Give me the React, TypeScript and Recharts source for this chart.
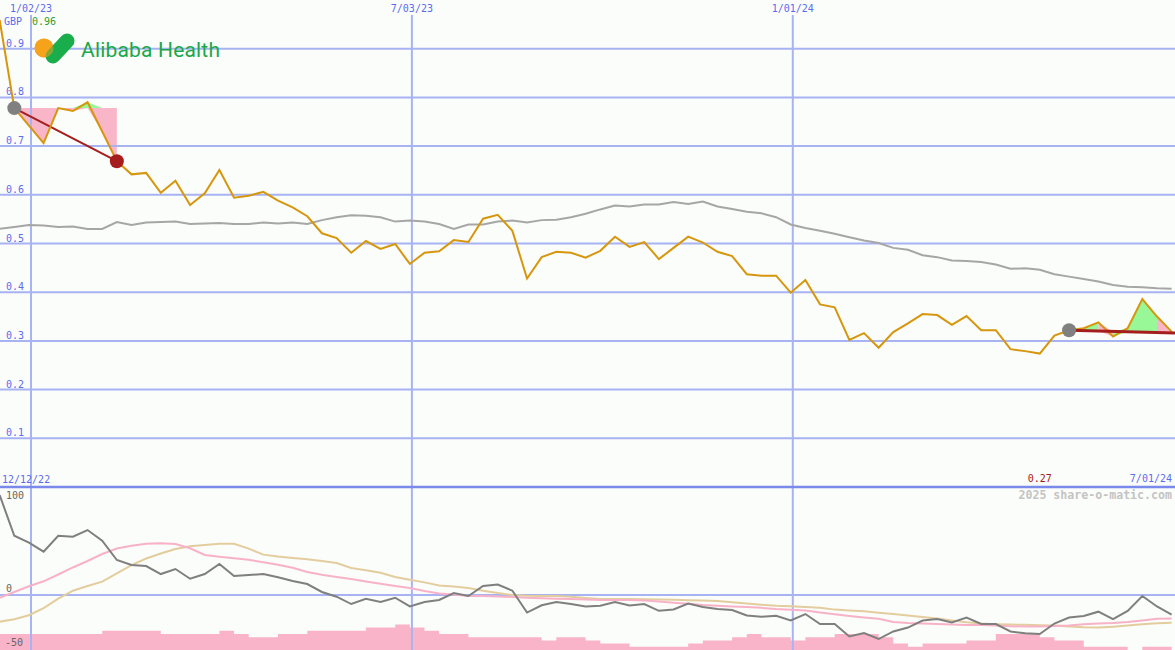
import React from 'react';
import {
  ComposedChart,
  Line,
  Area,
  XAxis,
  YAxis,
  ReferenceLine,
  ReferenceDot,
} from 'recharts';

// weekly series, first entry is the week before the chart's first full week
const FIRST_WEEK = -1;
const XMIN = -0.976;
const XMAX = 79.23;

// closing price (GBP)
const price = [
  0.959, 0.778, 0.742, 0.706, 0.778, 0.772, 0.79, 0.73, 0.669, 0.642, 0.645, 0.604, 0.629, 0.579, 0.603,
  0.651, 0.594, 0.598, 0.606, 0.588, 0.574, 0.556, 0.521, 0.511, 0.481, 0.505, 0.489, 0.499, 0.458, 0.481,
  0.484, 0.507, 0.503, 0.551, 0.559, 0.526, 0.428, 0.472, 0.483, 0.481, 0.471, 0.485, 0.514, 0.493, 0.503,
  0.468, 0.491, 0.514, 0.502, 0.483, 0.474, 0.437, 0.434, 0.434, 0.399, 0.425, 0.375, 0.369, 0.302, 0.316,
  0.286, 0.318, 0.336, 0.355, 0.353, 0.333, 0.351, 0.322, 0.322, 0.283, 0.279, 0.274, 0.311, 0.322, 0.326,
  0.338, 0.309, 0.326, 0.386, 0.35, 0.319,
];

// long moving average
const average = [
  0.53, 0.534, 0.538, 0.537, 0.534, 0.535, 0.53, 0.53, 0.544, 0.538, 0.543, 0.544, 0.545, 0.54, 0.541,
  0.542, 0.54, 0.54, 0.543, 0.541, 0.543, 0.54, 0.548, 0.554, 0.558, 0.557, 0.554, 0.545, 0.547, 0.545,
  0.54, 0.53, 0.539, 0.539, 0.545, 0.547, 0.543, 0.548, 0.549, 0.554, 0.561, 0.57, 0.578, 0.576, 0.58,
  0.58, 0.585, 0.581, 0.586, 0.576, 0.571, 0.565, 0.562, 0.554, 0.539, 0.532, 0.526, 0.52, 0.513, 0.506,
  0.501, 0.491, 0.487, 0.476, 0.472, 0.465, 0.464, 0.462, 0.457, 0.448, 0.449, 0.446, 0.437, 0.432, 0.427,
  0.422, 0.415, 0.411, 0.41, 0.408, 0.407,
];

// lower panel oscillators
const momentum = [
  102, 60.5, 53.4, 44.2, 60.5, 59.5, 66.3, 55.4, 35.7, 30.6, 29.6, 21.4, 26.5, 16.6, 21.4, 31.6, 19.4,
  20.4, 21.4, 18.1, 14.3, 11.2, 3.1, -1.7, -9.2, -3.8, -7.1, -2.8, -11.7, -7.1, -5.1, 2.0, -1.0, 9.2, 10.7,
  4.4, -17.9, -10.5, -7.1, -9.2, -11.7, -11.0, -7.1, -10.7, -9.2, -16.1, -14.8, -8.7, -12.2, -14.3, -15.3,
  -20.9, -22.1, -21.1, -26.0, -19.4, -29.6, -29.6, -42.3, -38.8, -44.9, -37.2, -33.2, -26.0, -24.5, -28.1,
  -23.0, -29.6, -29.6, -37.2, -39.1, -39.8, -29.1, -23.0, -21.4, -17.0, -24.5, -16.3, -1.0, -11.7, -19.9,
];

const fastSignal = [
  -2.8, 3.1, 8.9, 14.0, 20.9, 28.1, 34.7, 41.8, 47.4, 50.2, 52.2, 52.8, 52.0, 47.7, 40.8, 39.1, 37.6, 35.9,
  33.4, 30.9, 27.8, 23.5, 20.6, 18.4, 16.3, 13.9, 11.5, 9.2, 7.1, 4.1, 1.5, 0.5, -1.0, -1.0, -1.5, -2.0,
  -2.9, -3.4, -3.7, -4.1, -4.7, -5.1, -5.1, -5.1, -5.7, -6.6, -7.8, -9.0, -10.2, -11.0, -11.6, -12.2,
  -13.1, -14.3, -15.1, -15.9, -17.8, -19.6, -21.4, -23.0, -24.3, -27.6, -28.6, -29.1, -29.6, -30.2, -30.6,
  -30.6, -31.2, -31.8, -32.2, -32.0, -31.6, -31.2, -29.8, -29.0, -28.6, -27.6, -25.9, -24.3, -23.9,
];

const slowSignal = [
  -27.2, -24.7, -20.6, -13.3, -3.6, 4.4, 9.2, 13.6, 22.1, 30.6, 37.2, 42.3, 46.9, 49.7, 51.0, 52.2, 52.3,
  47.3, 41.2, 39.3, 37.8, 36.5, 34.7, 32.7, 27.6, 25.3, 22.7, 18.4, 15.6, 12.9, 9.7, 8.6, 7.1, 4.4, 2.0, 0,
  -0.8, -1.0, -1.0, -1.8, -3.1, -4.1, -4.1, -4.1, -4.3, -4.6, -4.9, -5.3, -5.6, -6.1, -7.4, -8.7, -9.9,
  -10.9, -11.4, -12.2, -12.9, -14.9, -15.8, -16.5, -18.0, -19.4, -20.9, -22.4, -24.0, -26.1, -27.9, -29.1,
  -29.8, -30.2, -30.4, -30.8, -31.2, -32.1, -32.9, -33.2, -32.3, -31.1, -29.9, -28.8, -28.3,
];

// relative weekly volume
const volume = [
  5, 5, 5, 5, 5, 5, 5, 6, 6, 6, 6, 5, 5, 5, 5, 6, 5, 4, 4, 5, 5, 6, 6, 6, 6, 7, 7, 8, 7, 6, 5, 5, 4, 4, 4, 4,
  4, 3, 4, 4, 3, 2, 2, 1, 1, 1, 1, 2, 3, 3, 4, 5, 4, 4, 3, 4, 4, 5, 5, 5, 4, 2, 1, 2, 2, 2, 3, 3, 5, 5, 5, 4,
  3, 3, 1, 1, 1, 0, 1, 1, 1,
];

const priceTicks = [0.1, 0.2, 0.3, 0.4, 0.5, 0.6, 0.7, 0.8, 0.9];

const dateLines = [
  { label: '1/02/23', week: 1.14 },
  { label: '7/03/23', week: 27.14 },
  { label: '1/01/24', week: 53.14 },
];

// triangle patterns
const leftPattern = { start: 0, end: 7 };
const rightPattern = { start: 72, endValue: 0.316 };
const gainRuns = [[73, 74], [75, 78]];
const lossRuns = [[74, 75], [78, 79]];

const BLUE = '#5b6cf0';
const GRID = '#a7b3f3';
const MONO = 'DejaVu Sans Mono';

const at = (week: number) => price[week - FIRST_WEEK];

const rightLevel = (week: number) => {
  const v0 = at(rightPattern.start);
  return v0 + ((rightPattern.endValue - v0) * (week - rightPattern.start)) / (XMAX - rightPattern.start);
};

const rows = price.map((p, i) => {
  const week = i + FIRST_WEEK;
  const row: any = {
    week,
    price: p,
    average: average[i],
    momentum: momentum[i],
    fast: fastSignal[i],
    slow: slowSignal[i],
    volume: volume[i],
  };
  if (week >= leftPattern.start && week <= leftPattern.end) {
    const level = at(leftPattern.start);
    row.leftLoss = [Math.min(p, level), level];
    row.leftGain = [level, Math.max(p, level)];
  }
  const lvl = rightLevel(week);
  gainRuns.forEach(([a, b], k) => {
    if (week >= a && week <= b) row['gain' + k] = [Math.min(p, lvl), Math.max(p, lvl)];
  });
  lossRuns.forEach(([a, b], k) => {
    if (week >= a && week <= b) row['loss' + k] = [Math.min(p, lvl), Math.max(p, lvl)];
  });
  return row;
});

const minIndex = price.indexOf(Math.min(...price));
const minWeek = minIndex + FIRST_WEEK;

const tickLabel = (value: number) => (props: any) => (
  <text x={6} y={props.viewBox.y - 2} fill={BLUE} fontSize={10} fontFamily={MONO}>
    {value.toFixed(1)}
  </text>
);

const dateLabel = (text: string) => (props: any) => (
  <text x={props.viewBox.x} y={12} textAnchor="middle" fill={BLUE} fontSize={10} fontFamily={MONO}>
    {text}
  </text>
);

const minLabel = (props: any) => (
  <text x={props.viewBox.x} y={482} textAnchor="middle" fill="#a01a1a" fontSize={10} fontFamily={MONO}>
    {price[minIndex].toFixed(2)}
  </text>
);

const fillArea = (key: string, color: string) => (
  <Area
    key={key}
    type="linear"
    dataKey={key}
    stroke="none"
    fill={color}
    fillOpacity={1}
    isAnimationActive={false}
    dot={false}
    activeDot={false}
  />
);

function Logo() {
  return (
    <g>
      <circle cx={44} cy={48} r={9.5} fill="#f7a21b" />
      <line x1={53} y1={56} x2={67} y2={41} stroke="#1aad4b" strokeWidth={15} strokeLinecap="round" />
      <circle cx={44} cy={48} r={9.5} fill="#f7a21b" fillOpacity={0.5} />
      <text x={81} y={57} fill="#1aa84a" fontSize={21} fontFamily="Roboto" textLength={139}>
        Alibaba Health
      </text>
    </g>
  );
}

export default function App() {
  const first = price[0];
  return (
    <div style={{ position: 'relative', width: 1175, height: 650, background: '#fbfdfa', overflow: 'hidden' }}>
      <style>{'body{margin:0}'}</style>

      <div style={{ position: 'absolute', left: 0, top: 0 }}>
        <ComposedChart width={1175} height={487} data={rows} margin={{ top: 0, right: 0, bottom: 0, left: 0 }}>
          <XAxis type="number" dataKey="week" domain={[XMIN, XMAX]} allowDataOverflow hide />
          <YAxis type="number" domain={[0, 1]} allowDataOverflow hide />
          {priceTicks.map((t) => (
            <ReferenceLine key={t} y={t} stroke={GRID} strokeWidth={2} label={tickLabel(t)} />
          ))}
          {dateLines.map((d) => (
            <ReferenceLine
              key={d.label}
              segment={[{ x: d.week, y: 0 }, { x: d.week, y: 0.969 }]}
              stroke={GRID}
              strokeWidth={2}
              label={dateLabel(d.label)}
            />
          ))}
          {fillArea('leftLoss', '#f9b6c9')}
          {fillArea('leftGain', '#98f898')}
          {gainRuns.map((_, k) => fillArea('gain' + k, '#98f898'))}
          {lossRuns.map((_, k) => fillArea('loss' + k, '#f9b6c9'))}
          <Line
            type="linear"
            dataKey="average"
            stroke="#a6a6a6"
            strokeWidth={2}
            dot={false}
            activeDot={false}
            isAnimationActive={false}
          />
          <ReferenceLine
            segment={[
              { x: leftPattern.start, y: at(leftPattern.start) },
              { x: leftPattern.end, y: at(leftPattern.end) },
            ]}
            stroke="#a51d1d"
            strokeWidth={2}
          />
          <ReferenceDot x={leftPattern.start} y={at(leftPattern.start)} r={7} fill="#808080" stroke="none" />
          <ReferenceDot x={leftPattern.end} y={at(leftPattern.end)} r={7} fill="#a51d1d" stroke="none" />
          <Line
            type="linear"
            dataKey="price"
            stroke="#d6960d"
            strokeWidth={2}
            dot={false}
            activeDot={false}
            isAnimationActive={false}
          />
          <ReferenceLine
            segment={[
              { x: rightPattern.start, y: at(rightPattern.start) },
              { x: XMAX, y: rightPattern.endValue },
            ]}
            stroke="#a51d1d"
            strokeWidth={3}
          />
          <ReferenceDot x={rightPattern.start} y={at(rightPattern.start)} r={7} fill="#808080" stroke="none" />
          <ReferenceLine x={minWeek} stroke="none" label={minLabel} />
        </ComposedChart>
      </div>

      <div style={{ position: 'absolute', left: 0, top: 487 }}>
        <ComposedChart width={1175} height={163} data={rows} margin={{ top: 0, right: 0, bottom: 0, left: 0 }}>
          <XAxis type="number" dataKey="week" domain={[XMIN, XMAX]} allowDataOverflow hide />
          <YAxis type="number" domain={[-56.1, 110.2]} allowDataOverflow hide />
          <YAxis yAxisId="vol" type="number" domain={[0, 50.9]} allowDataOverflow hide />
          <ReferenceLine y={0} stroke={GRID} strokeWidth={2} />
          {dateLines.map((d) => (
            <ReferenceLine key={d.label} x={d.week} stroke={GRID} strokeWidth={2} />
          ))}
          <Area
            yAxisId="vol"
            type="stepAfter"
            dataKey="volume"
            stroke="none"
            fill="#f9b4c9"
            fillOpacity={1}
            isAnimationActive={false}
            dot={false}
            activeDot={false}
          />
          <Line type="linear" dataKey="slow" stroke="#e3cd9e" strokeWidth={2} dot={false} activeDot={false} isAnimationActive={false} />
          <Line type="linear" dataKey="fast" stroke="#f8b2c8" strokeWidth={2} dot={false} activeDot={false} isAnimationActive={false} />
          <Line type="linear" dataKey="momentum" stroke="#7f7f7f" strokeWidth={2} dot={false} activeDot={false} isAnimationActive={false} />
        </ComposedChart>
      </div>

      <svg width={1175} height={650} style={{ position: 'absolute', left: 0, top: 0, pointerEvents: 'none' }}>
        <line x1={0} x2={1175} y1={487} y2={487} stroke="#7a89ec" strokeWidth={2.5} />
        <g fontFamily={MONO} fontSize={10}>
          <text x={4} y={25} fill={BLUE}>GBP</text>
          <text x={32} y={25} fill="#2f9e2f">{first.toFixed(2)}</text>
          <text x={2} y={483} fill={BLUE}>12/12/22</text>
          <text x={1172} y={482} fill={BLUE} textAnchor="end">7/01/24</text>
          <text x={1172} y={499} fill="#c4c4c4" textAnchor="end" fontSize={11.6} fontWeight="bold">
            2025 share-o-matic.com
          </text>
          <text x={6} y={499} fill="#666">100</text>
          <text x={6} y={592} fill="#666">0</text>
          <text x={5} y={646} fill="#666">-50</text>
        </g>
        <Logo />
      </svg>
    </div>
  );
}
